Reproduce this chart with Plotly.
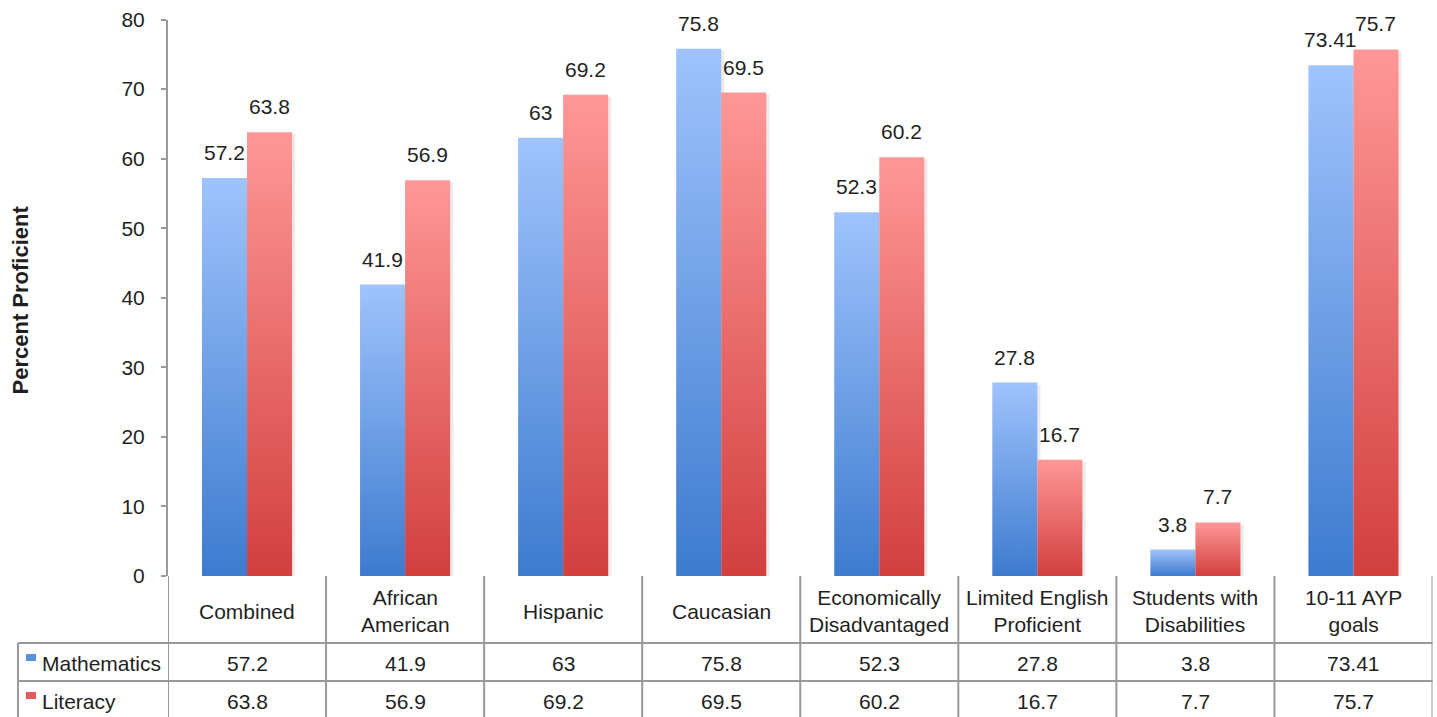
import plotly.graph_objects as go

# ---- data ----
categories = [
    "Combined", "African<br>American", "Hispanic", "Caucasian",
    "Economically<br>Disadvantaged", "Limited English<br>Proficient",
    "Students with<br>Disabilities", "10-11 AYP<br>goals",
]
mathematics = [57.2, 41.9, 63, 75.8, 52.3, 27.8, 3.8, 73.41]
literacy = [63.8, 56.9, 69.2, 69.5, 60.2, 16.7, 7.7, 75.7]
series_names = ["Mathematics", "Literacy"]
y_ticks = [0, 10, 20, 30, 40, 50, 60, 70, 80]

# ---- styling ----
W, H = 1437, 717
FONT = "Liberation Sans, Arial, Helvetica, sans-serif"
TEXT = "#1f1f1f"
GRID = "#999999"
BLUE = dict(light="#9fc3fc", dark="#3d7bcf", key="#5a92de")
RED = dict(light="#ff9797", dark="#d23f3f", key="#e35a5a")
BAR_W = 0.285          # bar width in category units
FS = 21


def px(x):
    return x / W


def py(y):
    return 1 - y / H


def fmt(v):
    return f"{v:g}"


fig = go.Figure()

# bars: one filled polygon per value so each gets its own vertical gradient
for values, col, side, name in [(mathematics, BLUE, -1, series_names[0]),
                                (literacy, RED, 1, series_names[1])]:
    for i, v in enumerate(values):
        x0 = i if side > 0 else i - BAR_W
        x1 = x0 + BAR_W
        # faint drop shadow on the right edge
        fig.add_trace(go.Scatter(
            x=[x0 + 0.02, x1 + 0.02, x1 + 0.02, x0 + 0.02, x0 + 0.02],
            y=[0, 0, v - 0.3, v - 0.3, 0],
            fill="toself", mode="lines", line=dict(width=0),
            fillcolor="rgba(0,0,0,0.08)", hoverinfo="skip", showlegend=False,
        ))
        fig.add_trace(go.Scatter(
            x=[x0, x1, x1, x0, x0], y=[0, 0, v, v, 0],
            fill="toself", mode="lines", line=dict(width=0),
            fillgradient=dict(type="vertical", start=0, stop=v,
                              colorscale=[[0, col["dark"]], [1, col["light"]]]),
            name=name, hovertemplate=f"{name}: {fmt(v)}<extra></extra>",
            showlegend=False,
        ))
        fig.add_annotation(
            x=x0 + BAR_W / 2, y=v, xref="x", yref="y", text=fmt(v),
            showarrow=False, yanchor="bottom", yshift=12,
            font=dict(family=FONT, size=FS, color=TEXT),
        )

# ---- data table beneath the plot ----
TOP, ROW1, ROW2, BOTTOM = 576, 643, 681, 730
LEFT, AXIS_X, RIGHT = 18, 168, 1432.5
shapes = []
line = dict(color=GRID, width=2)
for k in range(len(categories) + 1):
    shapes.append(dict(type="line", xref="x", yref="paper", x0=k - 0.5, x1=k - 0.5,
                       y0=py(TOP), y1=py(BOTTOM), line=line))
for yy in (ROW1, ROW2):
    shapes.append(dict(type="line", xref="paper", yref="paper", x0=px(LEFT), x1=px(RIGHT),
                       y0=py(yy), y1=py(yy), line=line))
shapes.append(dict(type="line", xref="paper", yref="paper", x0=px(LEFT), x1=px(LEFT),
                   y0=py(ROW1), y1=py(BOTTOM), line=line))

for i, cat in enumerate(categories):
    fig.add_annotation(x=i, y=py(611), xref="x", yref="paper", text=cat, showarrow=False,
                       yanchor="middle", font=dict(family=FONT, size=FS, color=TEXT))
    fig.add_annotation(x=i, y=py(663), xref="x", yref="paper", text=fmt(mathematics[i]),
                       showarrow=False, yanchor="middle",
                       font=dict(family=FONT, size=FS, color=TEXT))
    fig.add_annotation(x=i, y=py(701), xref="x", yref="paper", text=fmt(literacy[i]),
                       showarrow=False, yanchor="middle",
                       font=dict(family=FONT, size=FS, color=TEXT))

# legend keys in the table's first column
for name, col, ymid in [(series_names[0], BLUE, 662), (series_names[1], RED, 700)]:
    shapes.append(dict(type="rect", xref="paper", yref="paper",
                       x0=px(26), x1=px(36), y0=py(ymid - 8), y1=py(ymid - 1),
                       fillcolor=col["key"], line=dict(width=0)))
    fig.add_annotation(x=px(40), y=py(ymid + 1), xref="paper", yref="paper", text=name,
                       showarrow=False, xanchor="left", yanchor="middle",
                       font=dict(family=FONT, size=FS, color=TEXT))

# axis title
fig.add_annotation(x=px(19.5), y=py(300), xref="paper", yref="paper",
                   xanchor="center", yanchor="middle",
                   text="<b>Percent Proficient</b>", textangle=-90, showarrow=False,
                   font=dict(family=FONT, size=22, color=TEXT))

fig.update_layout(
    width=W, height=H, autosize=False,
    margin=dict(l=0, r=0, t=0, b=0, pad=0),
    paper_bgcolor="white", plot_bgcolor="white",
    shapes=shapes, showlegend=False,
    xaxis=dict(domain=[px(AXIS_X), px(RIGHT)], range=[-0.5, len(categories) - 0.5],
               showgrid=False, zeroline=False, showticklabels=False, ticks="",
               showline=False, fixedrange=True, automargin=False),
    yaxis=dict(domain=[py(576), py(19.5)], range=[0, 80], tickvals=y_ticks,
               showgrid=False, zeroline=False, showline=True, linecolor=GRID,
               linewidth=2, ticks="outside", ticklen=5, tickcolor=GRID, tickwidth=2,
               ticklabelstandoff=12, automargin=False,
               tickfont=dict(family=FONT, size=FS, color=TEXT), fixedrange=True),
)

fig.write_html("out.html")
